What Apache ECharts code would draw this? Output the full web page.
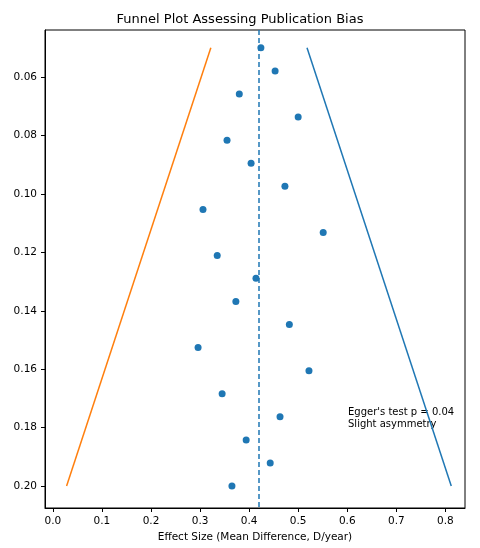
<!DOCTYPE html>
<html>
<head>
<meta charset="utf-8">
<script src="https://cdn.jsdelivr.net/npm/echarts@6/dist/echarts.min.js"></script>
<style>html,body{margin:0;padding:0;background:#fff}#c{width:480px;height:548px}</style>
</head>
<body>
<div id="c"></div>
<script>
var effects = [0.424, 0.453, 0.38, 0.50, 0.355, 0.404, 0.473, 0.306, 0.551, 0.335,
    0.414, 0.373, 0.482, 0.296, 0.522, 0.345, 0.463, 0.394, 0.443, 0.365]
var stdErrors = [0.05, 0.0579, 0.0658, 0.0737, 0.0816, 0.0895, 0.0974, 0.1053, 0.1132, 0.1211,
    0.1289, 0.1368, 0.1447, 0.1526, 0.1605, 0.1684, 0.1763, 0.1842, 0.1921, 0.20]
var pooled = 0.42
var seRange = [0.05, 0.20]
var lowerFunnel = [0.322, 0.028]
var upperFunnel = [0.518, 0.812]

var chart = echarts.init(document.getElementById('c'))
var font = 'DejaVu Sans'
var axisCommon = {
    axisLine: { onZero: false, lineStyle: { color: '#000' } },
    axisTick: { lineStyle: { color: '#000' }, length: 4 },
    axisLabel: { color: '#000', fontSize: 10.5, fontFamily: font },
    splitLine: { show: false },
    nameLocation: 'middle',
    nameTextStyle: { color: '#000', fontSize: 10.5, fontFamily: font }
}
chart.setOption({
    animation: false,
    title: {
        text: 'Funnel Plot Assessing Publication Bias',
        left: 'center', top: 8,
        textStyle: { fontSize: 13, fontWeight: 'normal', color: '#000', fontFamily: font }
    },
    grid: { left: 45, right: 15, top: 30, bottom: 40, show: true, borderColor: '#000', borderWidth: 1,
        containLabel: false, outerBoundsMode: 'none' },
    xAxis: Object.assign({}, axisCommon, {
        type: 'value', min: -0.016, max: 0.84, interval: 0.1,
        name: 'Effect Size (Mean Difference, D/year)', nameGap: 22,
        axisLabel: Object.assign({}, axisCommon.axisLabel, {
            customValues: [0, 0.1, 0.2, 0.3, 0.4, 0.5, 0.6, 0.7, 0.8],
            formatter: function (v) { return v.toFixed(1) }
        }),
        axisTick: Object.assign({}, axisCommon.axisTick, { customValues: [0, 0.1, 0.2, 0.3, 0.4, 0.5, 0.6, 0.7, 0.8] })
    }),
    yAxis: Object.assign({}, axisCommon, {
        type: 'value', inverse: true, min: 0.0439, max: 0.2075,
        name: 'Standard Error', nameGap: 35,
        axisLabel: Object.assign({}, axisCommon.axisLabel, {
            customValues: [0.06, 0.08, 0.10, 0.12, 0.14, 0.16, 0.18, 0.20],
            formatter: function (v) { return v.toFixed(2) }
        }),
        axisTick: Object.assign({}, axisCommon.axisTick, { customValues: [0.06, 0.08, 0.10, 0.12, 0.14, 0.16, 0.18, 0.20] })
    }),
    series: [
        {
            type: 'scatter', symbolSize: 7,
            itemStyle: { color: '#1f77b4', opacity: 1 },
            data: effects.map(function (e, i) { return [e, stdErrors[i]] })
        },
        {
            type: 'line', symbol: 'none',
            lineStyle: { color: '#ff7f0e', width: 1.5 },
            data: [[lowerFunnel[0], seRange[0]], [lowerFunnel[1], seRange[1]]]
        },
        {
            type: 'line', symbol: 'none',
            lineStyle: { color: '#1f77b4', width: 1.5 },
            data: [[upperFunnel[0], seRange[0]], [upperFunnel[1], seRange[1]]]
        },
        {
            type: 'line', symbol: 'none', data: [],
            markLine: {
                symbol: 'none', silent: true, label: { show: false },
                lineStyle: { color: '#1f77b4', type: [5, 3], width: 1.5 },
                data: [{ xAxis: pooled }]
            }
        }
    ],
    graphic: [{
        type: 'text', left: 348, top: 406,
        style: { text: "Egger's test p = 0.04\nSlight asymmetry", fontSize: 10, lineHeight: 12, fill: '#000', fontFamily: font }
    }]
})
</script>
</body>
</html>
